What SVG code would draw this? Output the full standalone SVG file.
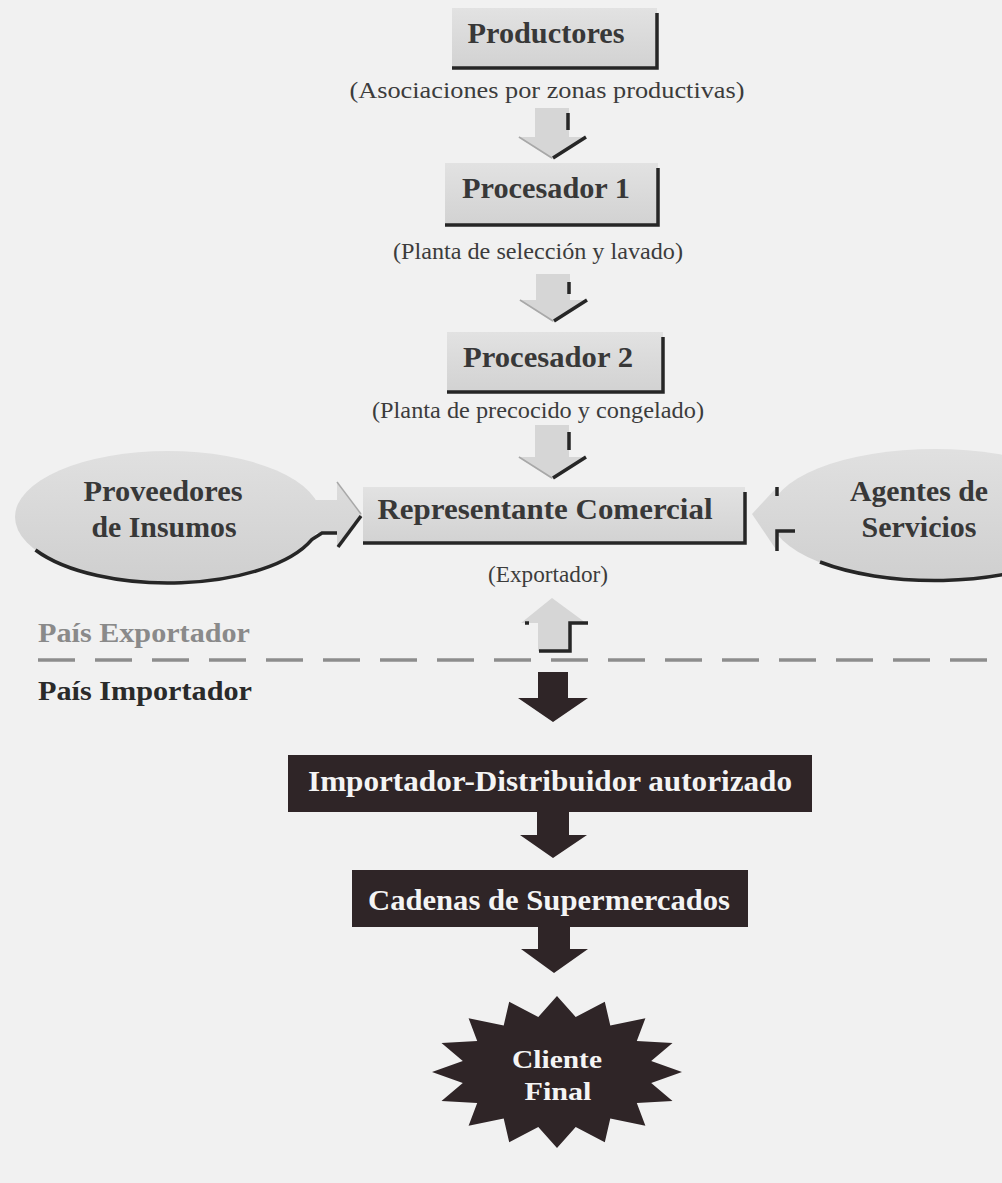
<svg xmlns="http://www.w3.org/2000/svg" width="1002" height="1183" viewBox="0 0 1002 1183">
<defs>
<linearGradient id="gbox" x1="0" y1="0" x2="0" y2="1">
<stop offset="0" stop-color="#e2e2e2"/>
<stop offset="1" stop-color="#d2d2d2"/>
</linearGradient>
<linearGradient id="gellL" gradientUnits="userSpaceOnUse" x1="0" y1="451" x2="0" y2="583">
<stop offset="0" stop-color="#e0e0e0"/>
<stop offset="1" stop-color="#cfcfcf"/>
</linearGradient>
</defs>
<style>
.bg{fill:#f1f1f1}
.gbox{fill:url(#gbox)}
.gell{fill:url(#gellL)}
.shadow{fill:none;stroke:#262626;stroke-width:3.5;stroke-linejoin:miter}
.light{fill:none;stroke:#a8a8a8;stroke-width:1.5}
.garrow{fill:#d6d6d6}
.darrow{fill:#2f2527}
.dbox{fill:#2f2527}
.t{font-family:"Liberation Serif","Times New Roman",serif;font-weight:bold;text-anchor:middle}
.tg{fill:#383838;font-size:29px}
.tw{fill:#f4f4f4;font-size:30px}
.sub{font-family:"Liberation Serif","Times New Roman",serif;font-size:24px;fill:#3c3c3c;text-anchor:middle}
.dash{fill:none;stroke:#8d8d8d;stroke-width:3.5;stroke-dasharray:37 20}
</style>
<rect class="bg" x="0" y="0" width="1002" height="1183"/>

<g id="productores">
<rect class="gbox" x="452" y="8" width="205" height="60"/>
<path class="shadow" d="M657 13 V68 H452"/>
<text class="t tg" x="546" y="43" textLength="157" lengthAdjust="spacingAndGlyphs">Productores</text>
<text class="sub" x="547" y="98" textLength="395" lengthAdjust="spacingAndGlyphs">(Asociaciones por zonas productivas)</text>
</g>

<g id="procesador1">
<rect class="gbox" x="445" y="163" width="213" height="62"/>
<path class="shadow" d="M658 168 V225 H445"/>
<text class="t tg" x="546" y="198" textLength="168" lengthAdjust="spacingAndGlyphs">Procesador 1</text>
<text class="sub" x="538" y="259" textLength="290" lengthAdjust="spacingAndGlyphs">(Planta de selección y lavado)</text>
</g>

<g id="procesador2">
<rect class="gbox" x="447" y="332" width="216" height="60"/>
<path class="shadow" d="M663 337 V392 H447"/>
<text class="t tg" x="548" y="367" textLength="170" lengthAdjust="spacingAndGlyphs">Procesador 2</text>
<text class="sub" x="538" y="418" textLength="332" lengthAdjust="spacingAndGlyphs">(Planta de precocido y congelado)</text>
</g>

<g id="representante">
<rect class="gbox" x="363" y="487" width="382" height="56"/>
<path class="shadow" d="M745 492 V543 H363"/>
<text class="t tg" x="545" y="519" textLength="335" lengthAdjust="spacingAndGlyphs">Representante Comercial</text>
<text class="sub" x="548" y="582" textLength="120" lengthAdjust="spacingAndGlyphs">(Exportador)</text>
</g>

<g id="proveedores">
<ellipse class="gell" cx="168" cy="517" rx="153" ry="66"/>
<rect class="gell" x="290" y="500" width="48" height="33"/>
<polygon class="gell" points="337,482 362,515 337,548"/>
<path class="shadow" d="M35.5 550 A153 66 0 0 0 311.8 539.6 L322 533 H337"/>
<path class="light" d="M337 482 L361 514"/>
<path class="shadow" d="M361 516 L338 547"/>
<text class="t tg" x="163" y="501" textLength="159" lengthAdjust="spacingAndGlyphs">Proveedores</text>
<text class="t tg" x="164" y="537" textLength="145" lengthAdjust="spacingAndGlyphs">de Insumos</text>
</g>

<g id="agentes">
<ellipse class="gell" cx="935" cy="515" rx="165" ry="66"/>
<rect class="gell" x="776" y="503" width="40" height="28"/>
<polygon class="gell" points="777,487 752,514 777,551"/>
<path class="shadow" d="M820 562 A165 66 0 0 0 1061 557"/>
<path class="shadow" d="M777 487 V496"/>
<path class="shadow" d="M795 531 H777 V551"/>
<text class="t tg" x="919" y="501" textLength="138" lengthAdjust="spacingAndGlyphs">Agentes de</text>
<text class="t tg" x="919" y="537" textLength="115" lengthAdjust="spacingAndGlyphs">Servicios</text>
</g>

<g id="frontera">
<text class="t" x="144" y="642" font-size="27" fill="#8a8a8a" textLength="212" lengthAdjust="spacingAndGlyphs">País Exportador</text>
<path class="dash" d="M38 660 H1002"/>
<text class="t" x="145" y="700" font-size="27" fill="#2a2a2a" textLength="214" lengthAdjust="spacingAndGlyphs">País Importador</text>
</g>

<g id="importador">
<rect class="dbox" x="288" y="755" width="524" height="57"/>
<text class="t tw" x="550" y="791" textLength="484" lengthAdjust="spacingAndGlyphs">Importador-Distribuidor autorizado</text>
</g>

<g id="cadenas">
<rect class="dbox" x="352" y="870" width="396" height="57"/>
<text class="t tw" x="549" y="910" textLength="362" lengthAdjust="spacingAndGlyphs">Cadenas de Supermercados</text>
</g>

<g id="cliente">
<polygon class="dbox" points="557,996 575.7,1017.1 604.8,1001.8 610.3,1025.4 645.4,1018.3 636.8,1040.9 672.5,1042.9 651.2,1061.1 682,1072 651.2,1082.9 672.5,1101.1 636.8,1103.1 645.4,1125.7 610.3,1118.6 604.8,1142.2 575.7,1126.9 557,1148 538.3,1126.9 509.2,1142.2 503.7,1118.6 468.6,1125.7 477.2,1103.1 441.5,1101.1 462.8,1082.9 432,1072 462.8,1061.1 441.5,1042.9 477.2,1040.9 468.6,1018.3 503.7,1025.4 509.2,1001.8 538.3,1017.1"/>
<text class="t" x="557" y="1068" font-size="26" fill="#f4f4f4" textLength="90" lengthAdjust="spacingAndGlyphs">Cliente</text>
<text class="t" x="558" y="1100" font-size="26" fill="#f4f4f4" textLength="67" lengthAdjust="spacingAndGlyphs">Final</text>
</g>

<g id="connectors">
<g id="arrow1">
<polygon class="garrow" points="535,108 569,108 569,137 586,137 552,159 518,137 535,137"/>
<path class="light" d="M519 137 L552 158"/>
<path class="shadow" d="M568 113 V130 M586 137 L553 158"/>
</g>
<g id="arrow2">
<polygon class="garrow" points="536,274 570,274 570,300 587,300 553,322 519,300 536,300"/>
<path class="light" d="M520 300 L553 321"/>
<path class="shadow" d="M569 282 V294 M587 300 L554 321"/>
</g>
<g id="arrow3">
<polygon class="garrow" points="535,425 569,425 569,457 586,457 552,479 518,457 535,457"/>
<path class="light" d="M519 457 L552 478"/>
<path class="shadow" d="M569 432 V450 M586 457 L553 478"/>
</g>
<g id="arrow-up">
<polygon class="garrow" points="552,598 586,623 570,623 570,651 538,651 538,623 521,623"/>
<path class="shadow" d="M588 623 H570 V651 H539"/>
<path class="shadow" d="M525 623 H529"/>
</g>
<g id="arrow-down1">
<polygon class="darrow" points="538,672 568,672 568,698 588,698 553,722 518,698 538,698"/>
</g>
<g id="arrow-down2">
<polygon class="darrow" points="537,812 569,812 569,835 587,835 553,858 520,835 537,835"/>
</g>
<g id="arrow-down3">
<polygon class="darrow" points="538,927 570,927 570,949 588,949 554,973 521,949 538,949"/>
</g>
</g>
</svg>
